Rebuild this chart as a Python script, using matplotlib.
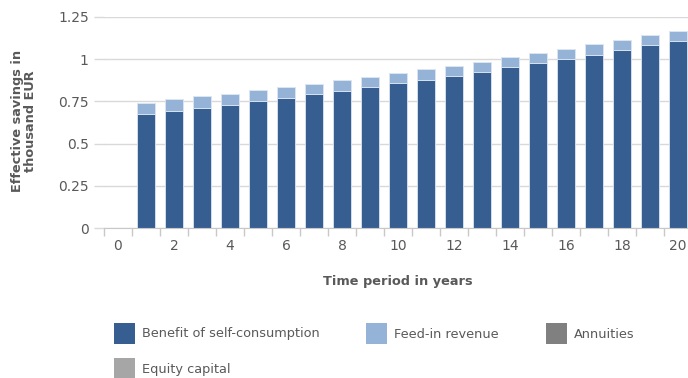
import matplotlib
matplotlib.use("Agg")
import matplotlib.pyplot as plt
from matplotlib.patches import Rectangle
import numpy as np

# Savings per year (thousand EUR)
years = list(range(0, 21))
self_consumption = [0.0, 0.675, 0.693, 0.713, 0.730, 0.750, 0.768, 0.791, 0.809, 0.833,
                    0.857, 0.879, 0.902, 0.926, 0.951, 0.975, 0.999, 1.027, 1.052, 1.082, 1.110]
feed_in = [0.0, 0.067, 0.069, 0.067, 0.066, 0.065, 0.065, 0.064, 0.066, 0.063,
           0.059, 0.061, 0.060, 0.059, 0.060, 0.059, 0.061, 0.061, 0.061, 0.059, 0.059]
annuities = [0.0] * 21
equity_capital = [0.0] * 21

series_names = ["Benefit of self-consumption", "Feed-in revenue", "Annuities", "Equity capital"]
series_colors = ["#365e91", "#95b3d7", "#808080", "#a6a6a6"]

y_ticks = [0, 0.25, 0.5, 0.75, 1, 1.25]
y_tick_labels = ["0", "0.25", "0.5", "0.75", "1", "1.25"]
x_tick_values = list(range(0, 21, 2))

plt.rcParams["font.family"] = ["DejaVu Sans"]
text_col = "#595959"

fig = plt.figure(figsize=(6.88, 3.78), dpi=100)
ax = fig.add_axes([104 / 688, 1 - 228 / 378, 588 / 688, 211 / 378])

x = np.array(years)
bottom = np.zeros(len(years))
for vals, col in zip([self_consumption, feed_in, annuities, equity_capital], series_colors):
    v = np.array(vals)
    ax.bar(x, v, width=0.67, bottom=bottom, color=col, edgecolor="#dce6f1",
           linewidth=0.6, zorder=3)
    bottom = bottom + v

ax.set_xlim(-0.5, 20.5)
ax.set_ylim(0, 1.25)

ax.set_yticks(y_ticks)
ax.set_yticklabels(y_tick_labels)
ax.grid(axis="y", color="#d9d9d9", linewidth=1, zorder=0)

# category boundary ticks, labels on even years
ax.set_xticks(np.arange(-0.5, 21, 1), minor=True)
ax.set_xticks(x_tick_values)
ax.set_xticklabels([str(v) for v in x_tick_values])
ax.tick_params(axis="x", which="major", length=0, pad=8, labelsize=10, labelcolor=text_col)
ax.tick_params(axis="x", which="minor", length=6, color="#c8c8c8", width=1)
ax.tick_params(axis="y", length=7, color="#d9d9d9", width=1, pad=4,
               labelsize=10, labelcolor=text_col)

for s in ["top", "right", "left"]:
    ax.spines[s].set_visible(False)
ax.spines["bottom"].set_color("#c8c8c8")
ax.spines["bottom"].set_zorder(4)

fig.text(24 / 688, 1 - 121 / 378, "Effective savings in\nthousand EUR", rotation=90,
         ha="center", va="center", fontsize=9.3, fontweight="bold", color=text_col,
         linespacing=1.05)
fig.text(398 / 688, 1 - 282 / 378, "Time period in years", ha="center", va="center",
         fontsize=9.3, fontweight="bold", color=text_col)

# legend
legend_pos = [(114, 323), (366, 323), (546, 323), (114, 358)]
for (lx, ly), name, col in zip(legend_pos, series_names, series_colors):
    fig.add_artist(Rectangle((lx / 688, 1 - (ly + 21) / 378), 21 / 688, 21 / 378,
                             transform=fig.transFigure, facecolor=col, edgecolor="none"))
    fig.text((lx + 28) / 688, 1 - (ly + 11) / 378, name, ha="left", va="center",
             fontsize=9.3, color=text_col)

fig.savefig("out.png", dpi=100)
